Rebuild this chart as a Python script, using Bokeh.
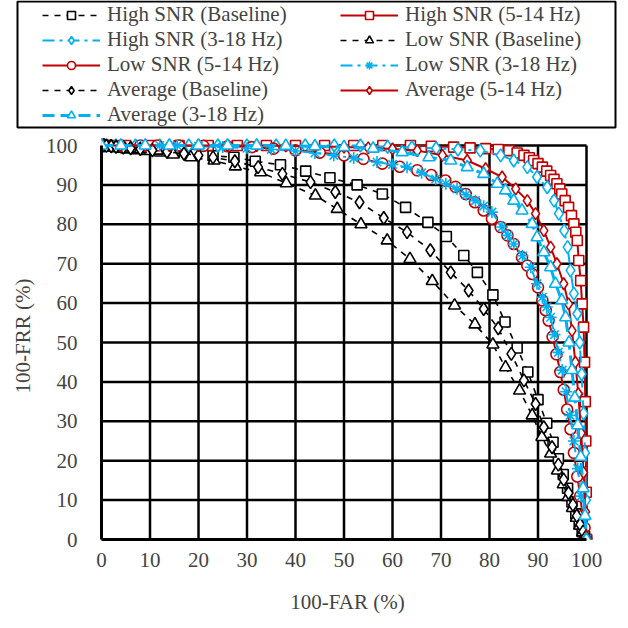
from bokeh.plotting import figure
from bokeh.layouts import column
from bokeh.models import Legend, LegendItem, FixedTicker, Range1d
from bokeh.embed import file_html
from bokeh.resources import INLINE

# ---------------- data ----------------
hb_x = [0, 0.5, 1, 2, 3, 4, 5, 7, 9, 12, 15, 19, 23, 27.3, 31.7, 36.9, 42.1, 47.1, 52.7, 57.9, 62.7, 67.3, 71.1, 74.7, 77.5, 80.7, 83.2, 85.7, 87.9, 90, 91.8, 93.1, 94.2, 95.2, 96.1, 97, 97.8, 98.5, 99.1, 99.6, 100]
hb_y = [100, 100, 100, 99.8, 99.7, 99.6, 99.4, 99.2, 99, 98.6, 98.3, 97.8, 97.4, 97, 96, 95.1, 93.5, 91.8, 90, 87.7, 84.3, 80.5, 76.9, 72.1, 67.8, 62.1, 55.2, 48.6, 42.5, 35.5, 29.5, 24.7, 20.5, 16.5, 13, 9.5, 6.5, 4, 2, 0.8, 0]

h5_x = [0, 2, 5, 10, 16, 22, 28, 34, 40, 46, 52, 58, 63.7, 68, 72.6, 76, 79.2, 81.8, 84, 85.7, 87.1, 88.2, 89.1, 90, 90.9, 91.8, 92.6, 93.3, 93.9, 94.5, 94.9, 95.6, 96.3, 96.9, 97.4, 97.8, 98.1, 98.4, 98.8, 99.1, 99.4, 99.6, 99.75, 99.85, 99.95, 100]
h5_y = [100, 100, 100, 100, 100, 100, 100, 100, 100, 100, 100, 100, 100, 99.8, 99.6, 99.4, 99.2, 99, 98.7, 98.1, 97.5, 96.9, 96.2, 95.4, 94.5, 93.5, 92.4, 91.4, 90.3, 89, 87.7, 86, 84.3, 82.2, 80.1, 78, 75.9, 70.8, 65.7, 59.8, 53.9, 45, 35, 25, 12, 0]

h3_x = [0, 3, 7, 12, 18, 24, 30, 36, 42, 48, 53.4, 59, 64, 69, 73.5, 78.1, 82.3, 85, 87.8, 89.8, 91.9, 93.3, 94.3, 95.4, 96.1, 96.7, 97.4, 98.1, 98.6, 99, 99.4, 99.7, 99.9, 100]
h3_y = [100, 100, 100, 100, 100, 100, 100, 100, 100, 100, 100, 99.7, 99.5, 99.3, 99.0, 98.7, 97.5, 96.2, 94.5, 92, 89.4, 86, 82.7, 78.4, 74.2, 68.3, 62.4, 57.3, 50, 42, 32, 22, 10, 0]

lb_x = [0, 0.5, 1, 2, 3, 4.5, 6, 8, 11.5, 14.8, 18.4, 23.2, 27.6, 32.8, 38.1, 44.1, 48.6, 53.5, 58.9, 63.6, 68.2, 72.8, 77, 80.7, 83.3, 86.2, 88.8, 90.8, 92.6, 94, 95.2, 96.2, 97.1, 97.9, 98.6, 99.2, 99.7, 100]
lb_y = [100, 100, 99.9, 99.8, 99.6, 99.4, 99.2, 99, 98.7, 97.7, 97, 96.2, 94.7, 93.2, 90.4, 87.3, 83.9, 80, 75.9, 71.2, 65.6, 59.4, 54.6, 49.5, 43.7, 37.8, 31.5, 26, 21.8, 17.5, 14, 10.8, 8, 5.5, 3.5, 1.8, 0.6, 0]

l5_x = [0, 4, 8, 11.5, 16, 21, 26, 31, 35.5, 40, 45, 50, 54, 57.9, 61.5, 65.1, 68, 70.9, 73, 75.1, 77, 78.8, 80.5, 82.3, 83.7, 85, 86.7, 87.8, 88.8, 90, 90.9, 91.6, 92.2, 93, 93.8, 94.6, 95.3, 96, 96.7, 97.4, 98.1, 98.7, 99.2, 99.6, 100]
l5_y = [100, 100, 100, 100, 100, 99.9, 99.8, 99.6, 99.2, 98.8, 98.2, 97.5, 96.6, 95.4, 94.6, 93.7, 92.5, 91.1, 89.5, 87.7, 85.6, 83.5, 81.4, 79.3, 77.2, 75, 71.6, 69.5, 67.4, 64, 60.7, 58.2, 55.6, 51.5, 47, 42.5, 38, 33, 28, 22, 16, 11, 6, 3, 0]

l3_x = [0, 4, 8, 12, 15.6, 20, 25, 30, 35, 40, 44, 47.9, 52, 56.8, 60, 63, 66, 68.9, 71, 73.3, 75.2, 77.1, 78.8, 80.5, 82.6, 83.8, 85, 86.8, 88.5, 89.8, 90.9, 91.8, 92.6, 93.4, 94.2, 95, 95.8, 96.6, 97.4, 98.2, 98.9, 99.5, 100]
l3_y = [100, 100, 100, 100, 100, 99.8, 99.6, 99.3, 99, 98.6, 98.1, 97.5, 96.8, 95.8, 95.2, 94.5, 93.1, 91.5, 90.3, 89, 87.5, 86, 84.6, 83.1, 79.3, 77.2, 75, 72, 69.1, 64.9, 61.5, 59, 56.4, 52, 47.5, 43, 37.5, 31.5, 25, 18, 11, 5, 0]

ab_x = [0, 0.5, 1, 2, 3, 4.5, 6, 8, 10.5, 13.5, 17, 20, 23, 27.5, 32.3, 37.3, 43.1, 48.2, 53.2, 58.2, 63, 67.8, 72, 75.7, 78.8, 81.8, 84.5, 87.1, 89.5, 91.2, 92.9, 94.2, 95.3, 96.3, 97.2, 98, 98.7, 99.3, 99.8, 100]
ab_y = [100, 100, 99.9, 99.8, 99.7, 99.5, 99.3, 99.1, 98.8, 98.4, 97.9, 97.5, 97, 96, 94.5, 92.8, 90.7, 88.2, 85.6, 81.6, 78, 73.4, 67.8, 63.2, 58.5, 53.6, 47.1, 40.4, 34.4, 28.5, 23.4, 19, 15.2, 11.8, 8.8, 6, 3.8, 2, 0.6, 0]

a5_x = [0, 4, 9, 14, 20, 26, 32, 38, 44, 50, 55, 60, 65.1, 70.3, 75.4, 79.2, 82.6, 85.4, 87.8, 89.5, 91.2, 92.6, 93.9, 95.3, 96.3, 97, 97.7, 98.3, 98.9, 99.4, 99.8, 100]
a5_y = [100, 100, 100, 100, 100, 100, 100, 99.9, 99.8, 99.6, 99.4, 99.1, 98.7, 97.5, 96.2, 94.1, 92, 89, 86, 82.7, 78.4, 74.2, 70, 64.9, 59.8, 53, 45, 37, 27, 17, 7, 0]

a3_x = [0, 4, 9, 14, 20, 26, 32, 38, 44, 50, 56, 62, 67.5, 72, 75.4, 78.8, 81.6, 83.3, 85, 86.7, 88.8, 89.8, 91.2, 92.6, 93.6, 94.9, 95.7, 96.4, 97, 97.6, 98.2, 98.8, 99.3, 99.7, 100]
a3_y = [100, 100, 100, 100, 100, 100, 100, 99.9, 99.8, 99.6, 99.2, 98.3, 97, 96.2, 94.5, 92.8, 90.3, 88.6, 86, 83.5, 80.1, 76.7, 72.9, 69.1, 64.9, 60.7, 56.4, 50, 43, 36, 29, 21, 13, 6, 0]

labels = ["High SNR (Baseline)", "High SNR (5-14 Hz)", "High SNR (3-18 Hz)",
          "Low SNR (Baseline)", "Low SNR (5-14 Hz)", "Low SNR (3-18 Hz)",
          "Average (Baseline)", "Average (5-14 Hz)", "Average (3-18 Hz)"]
ticks = [0, 10, 20, 30, 40, 50, 60, 70, 80, 90, 100]

BLACK = "#000000"
RED = "#C00000"
BLUE = "#00B0F0"
FONT = "Liberation Serif, Times New Roman, Times, serif"

LEGH = 132          # height of legend strip (px)
PX_X = 4.85         # px per x unit
PX_Y = 3.94         # px per y unit
FRAME_W = 628 - 101 - 35
FRAME_H = 628 - LEGH - 89

series = [
    (hb_x, hb_y, BLACK, "dashed", "square", 1.6, 10),
    (h5_x, h5_y, RED, "solid", "square", 2.0, 10),
    (h3_x, h3_y, BLUE, "12 5 3 5", "diamond", 2.0, 13),
    (lb_x, lb_y, BLACK, "dashed", "triangle", 1.6, 12),
    (l5_x, l5_y, RED, "solid", "circle", 2.0, 11),
    (l3_x, l3_y, BLUE, "12 5 3 5", "asterisk", 2.0, 12),
    (ab_x, ab_y, BLACK, "dashed", "diamond", 1.6, 13),
    (a5_x, a5_y, RED, "solid", "diamond", 2.0, 12),
    (a3_x, a3_y, BLUE, "12 6", "triangle", 3.0, 12),
]

# ---------------- main chart ----------------
p = figure(width=628, height=628 - LEGH, output_backend="svg", toolbar_location=None,
           x_range=Range1d(0, FRAME_W / PX_X), y_range=Range1d(0, FRAME_H / PX_Y),
           min_border_left=101, min_border_right=35, min_border_bottom=89,
           min_border_top=0)
p.frame_align = False
p.outline_line_color = None
p.background_fill_color = "white"
p.border_fill_color = "white"
p.xgrid.visible = False
p.ygrid.visible = False

for ax, lab in ((p.xaxis[0], "100-FAR (%)"), (p.yaxis[0], "100-FRR (%)")):
    ax.ticker = FixedTicker(ticks=ticks)
    ax.bounds = (0, 100)
    ax.axis_label = lab
    ax.axis_label_text_font = FONT
    ax.axis_label_text_font_style = "normal"
    ax.axis_label_text_font_size = "21px"
    ax.major_label_text_font = FONT
    ax.major_label_text_font_size = "21px"
    ax.axis_line_color = BLACK
    ax.axis_line_width = 3
    ax.major_tick_out = 0
    ax.major_tick_in = 0
    ax.minor_tick_out = 0
    ax.minor_tick_in = 0
p.xaxis.major_label_standoff = 13
p.xaxis.axis_label_standoff = 20
p.yaxis.major_label_standoff = 24
p.yaxis.axis_label_standoff = 8

# grid lines limited to the 0-100 square
lo = [ticks[0]] * len(ticks)
hi = [ticks[-1]] * len(ticks)
p.segment(x0=ticks, y0=lo, x1=ticks, y1=hi, line_color=BLACK, line_width=2.5)
p.segment(x0=lo, y0=ticks, x1=hi, y1=ticks, line_color=BLACK, line_width=2.5)

# ---------------- legend strip ----------------
lf = figure(width=628, height=LEGH, output_backend="svg", toolbar_location=None,
            x_range=Range1d(0, 628), y_range=Range1d(LEGH, 0),
            min_border_left=0, min_border_right=0, min_border_top=0,
            min_border_bottom=0)
lf.frame_align = False
lf.axis.visible = False
lf.grid.visible = False
lf.outline_line_color = None
lf.border_fill_color = "white"
lf.background_fill_color = "white"
# renderers that only feed the legend live on a range that is never shown
lf.extra_x_ranges = {"off": Range1d(1000, 2000)}
lf.extra_y_ranges = {"off": Range1d(1000, 2000)}

# legend frame box (pixel coordinates of the strip)
lf.quad(left=[17], right=[615], top=[1], bottom=[127], fill_color=None,
        line_color=BLACK, line_width=2)

items = []
for (xs, ys, col, dash, mk, lw, sz), lab in zip(series, labels):
    p.line(xs, ys, line_color=col, line_width=lw, line_dash=dash)
    p.scatter(xs, ys, marker=mk, size=sz, line_color=col, line_width=1.6,
              fill_color="white")
    r1 = lf.line(xs, ys, line_color=col, line_width=lw, line_dash=dash,
                 x_range_name="off", y_range_name="off")
    r2 = lf.scatter(xs, ys, marker=mk, size=sz, line_color=col, line_width=1.6,
                    fill_color="white", x_range_name="off", y_range_name="off")
    items.append(LegendItem(label=lab, renderers=[r1, r2]))

ROWH = 25
LEG_H = 5 * ROWH
# legend is filled column by column: reorder so rows read left-to-right
order = [0, 2, 4, 6, 8, 1, 3, 5, 7]
legend = Legend(items=[items[i] for i in order], ncols=2,
                location=(42, LEGH - 2 - LEG_H))
legend.label_text_font = FONT
legend.label_text_font_size = "21px"
legend.glyph_width = 58
legend.glyph_height = 20
legend.label_height = ROWH
legend.label_width = 233
legend.label_standoff = 7
legend.spacing = 0
legend.padding = 0
legend.margin = 0
legend.border_line_color = None
legend.background_fill_alpha = 0
lf.add_layout(legend, "center")

layout = column(lf, p, spacing=0)
html = file_html(layout, INLINE)
open("out.html", "w").write(html)
